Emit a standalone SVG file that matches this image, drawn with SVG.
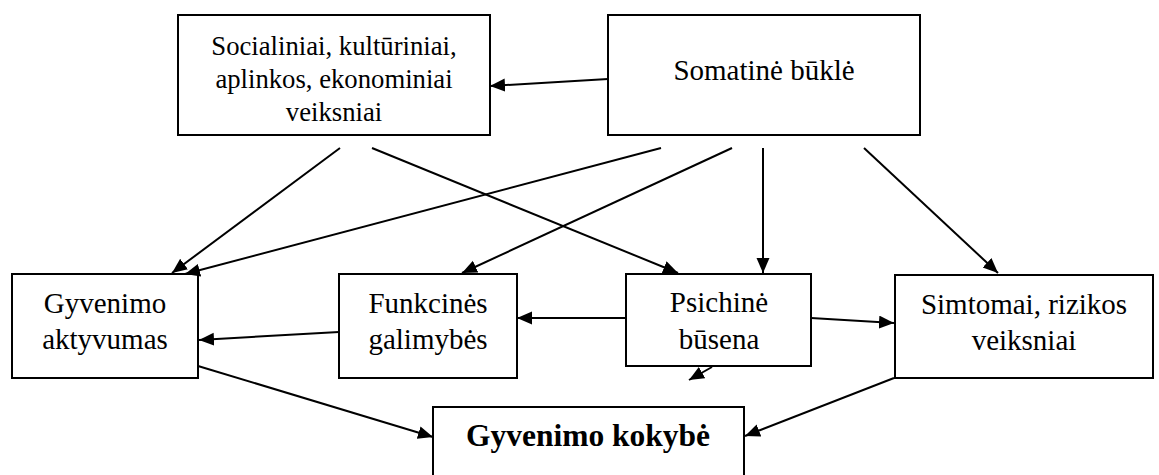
<svg xmlns="http://www.w3.org/2000/svg" width="1159" height="475" viewBox="0 0 1159 475">
<style>
.box{fill:#fff;stroke:#000;stroke-width:2}
.t{font-family:"Liberation Serif","Times New Roman",serif;font-size:29px;fill:#000;text-anchor:middle}
.s{font-size:26.7px}
.b{font-weight:bold;font-size:31.5px}
.c{stroke:#000;stroke-width:2;fill:none;marker-end:url(#ah)}
</style>
<defs>
<marker id="ah" markerUnits="userSpaceOnUse" markerWidth="16" markerHeight="14" refX="15" refY="6.5" orient="auto">
<path d="M0,0 L15,6.5 L0,13 z" fill="#000"/>
</marker>
</defs>
<rect width="1159" height="475" fill="#fff"/>
<g id="n-soc"><rect class="box" x="178" y="15" width="312" height="120"/>
<text class="t s" x="334" y="55">Socialiniai, kultūriniai,</text>
<text class="t s" x="334" y="88">aplinkos, ekonominiai</text>
<text class="t s" x="334" y="121">veiksniai</text></g>
<g id="n-som"><rect class="box" x="608" y="15" width="312" height="120"/>
<text class="t" x="764" y="80">Somatinė būklė</text></g>
<g id="n-gyv"><rect class="box" x="12" y="274" width="186" height="104"/>
<text class="t" x="105" y="313">Gyvenimo</text>
<text class="t" x="105" y="349">aktyvumas</text></g>
<g id="n-funk"><rect class="box" x="339" y="274" width="178" height="104"/>
<text class="t" x="428" y="313">Funkcinės</text>
<text class="t" x="428" y="349">galimybės</text></g>
<g id="n-psich"><rect class="box" x="626" y="274" width="185" height="92"/>
<text class="t" x="719" y="312">Psichinė</text>
<text class="t" x="719" y="349">būsena</text></g>
<g id="n-simt"><rect class="box" x="895" y="275" width="258" height="103"/>
<text class="t" x="1024" y="314">Simtomai, rizikos</text>
<text class="t" x="1024" y="350">veiksniai</text></g>
<g id="n-kok"><rect class="box" x="433" y="407" width="311" height="80"/>
<text class="t b" x="588" y="446">Gyvenimo kokybė</text></g>
<g id="connectors">
<line class="c" x1="608" y1="79" x2="490" y2="86"/>
<line class="c" x1="340" y1="148" x2="172" y2="273"/>
<line class="c" x1="661" y1="148" x2="185" y2="274"/>
<line class="c" x1="372" y1="148" x2="678" y2="273"/>
<line class="c" x1="732" y1="148" x2="462" y2="273"/>
<line class="c" x1="763" y1="148" x2="763" y2="273"/>
<line class="c" x1="864" y1="148" x2="998" y2="273"/>
<line class="c" x1="339" y1="332" x2="199" y2="340"/>
<line class="c" x1="626" y1="318" x2="517" y2="318"/>
<line class="c" x1="811" y1="318" x2="894" y2="323"/>
<line class="c" x1="712" y1="367" x2="689" y2="380"/>
<line class="c" x1="198" y1="366" x2="433" y2="437"/>
<line class="c" x1="894" y1="378" x2="745" y2="436"/>
</g>
</svg>
